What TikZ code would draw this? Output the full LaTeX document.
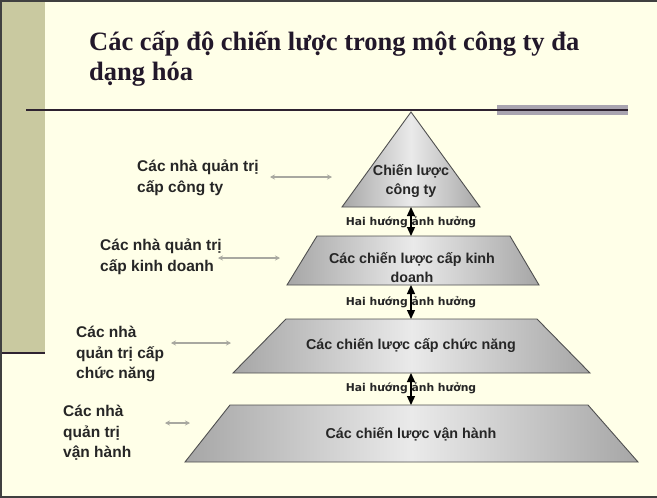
\documentclass[tikz,border=0pt]{standalone}
\usepackage{fontspec}
\setmainfont{Liberation Serif}
\newfontfamily\arialf{Liberation Sans}
\newfontfamily\widef{DejaVu Sans}
\usetikzlibrary{arrows.meta}
\definecolor{bg}{HTML}{FFFFE8}
\definecolor{khaki}{HTML}{C9C9A0}
\definecolor{titlec}{HTML}{22182A}
\definecolor{rulec}{HTML}{2E2230}
\definecolor{barc}{HTML}{A9A4B0}
\definecolor{edgegray}{HTML}{A6A6A6}
\definecolor{midgray}{HTML}{EAEAEA}
\definecolor{outl}{HTML}{505050}
\definecolor{arrgray}{HTML}{A8A8A0}
\tikzset{
  level/.style={draw=outl, line width=0.9pt, left color=edgegray, right color=edgegray, middle color=midgray},
  inner/.style={font=\arialf\bfseries\fontsize{14.3}{19}\selectfont, text=black!85, align=center, inner sep=0pt},
  mgr/.style={font=\arialf\bfseries\fontsize{15.5}{20.5}\selectfont, text=black!85, align=left, anchor=north west, inner sep=0pt},
  infl/.style={font=\widef\bfseries\fontsize{10.8}{12}\selectfont, text=black!85, inner sep=0pt},
  ttl/.style={font=\bfseries\fontsize{26.5}{28}\selectfont, text=titlec, anchor=base west, inner sep=0pt},
  twoway/.style={black, line width=1.3pt, {Triangle[width=8pt,length=9pt]}-{Triangle[width=8pt,length=9pt]}},
  grayarr/.style={arrgray, line width=1.6pt, {Stealth[width=5pt,length=5pt]}-{Stealth[width=5pt,length=5pt]}}
}
\begin{document}
\begin{tikzpicture}[x=1pt,y=-1pt]
\useasboundingbox (0,0) rectangle (657,498);
\fill[bg] (0,0) rectangle (657,498);
% left band
\fill[khaki] (0,0) rectangle (45,353);
\draw[rulec, line width=2pt] (0,353) -- (45,353);
% frame
\draw[black!75, line width=2pt] (657,1) -- (1,1) -- (1,497) -- (657,497);
% title
\node[ttl] (title1) at (89,50) {Các cấp độ chiến lược trong một công ty đa};
\node[ttl] (title2) at (89,80) {dạng hóa};
% rule under title
\fill[barc] (497,105) rectangle (628,115);
\draw[rulec, line width=1.5pt] (26,110) -- (628,110);
% pyramid levels
\draw[level] (411,112) -- (480,207) -- (342,207) -- cycle;
\draw[level] (317,236) -- (510,236) -- (539,285) -- (287,285) -- cycle;
\draw[level] (286,319) -- (537,319) -- (590,373) -- (233,373) -- cycle;
\draw[level] (230,405) -- (588,405) -- (638,462) -- (185,462) -- cycle;
% level texts
\node[inner] (l1) at (411,181) {Chiến lược\\công ty};
\node[inner] (l2) at (412,268) {Các chiến lược cấp kinh\\doanh};
\node[inner] (l3) at (411,346) {Các chiến lược cấp chức năng};
\node[inner] (l4) at (411,434) {Các chiến lược vận hành};
% influence labels and arrows
\node[infl] (h1) at (411,222) {Hai hướng ảnh hưởng};
\node[infl] (h2) at (411,302) {Hai hướng ảnh hưởng};
\node[infl] (h3) at (411,388) {Hai hướng ảnh hưởng};
\coordinate (b1) at (411,207); \coordinate (t2) at (411,236);
\coordinate (b2) at (411,285); \coordinate (t3) at (411,319);
\coordinate (b3) at (411,373); \coordinate (t4) at (411,405);
\draw[twoway] (b1) -- (t2);
\draw[twoway] (b2) -- (t3);
\draw[twoway] (b3) -- (t4);
% managers
\node[mgr] (m1) at (137,160) {Các nhà quản trị\\cấp công ty};
\node[mgr] (m2) at (100,239) {Các nhà quản trị\\cấp kinh doanh};
\node[mgr] (m3) at (76,326) {Các nhà\\quản trị cấp\\chức năng};
\node[mgr] (m4) at (63,405) {Các nhà\\quản trị\\vận hành};
\coordinate (a1s) at (270,177); \coordinate (a1e) at (332,177);
\coordinate (a2s) at (218,258); \coordinate (a2e) at (280,258);
\coordinate (a3s) at (171,343); \coordinate (a3e) at (231,343);
\coordinate (a4s) at (165,423); \coordinate (a4e) at (190,423);
\draw[grayarr] (a1s) -- (a1e);
\draw[grayarr] (a2s) -- (a2e);
\draw[grayarr] (a3s) -- (a3e);
\draw[grayarr] (a4s) -- (a4e);
\end{tikzpicture}
\end{document}
